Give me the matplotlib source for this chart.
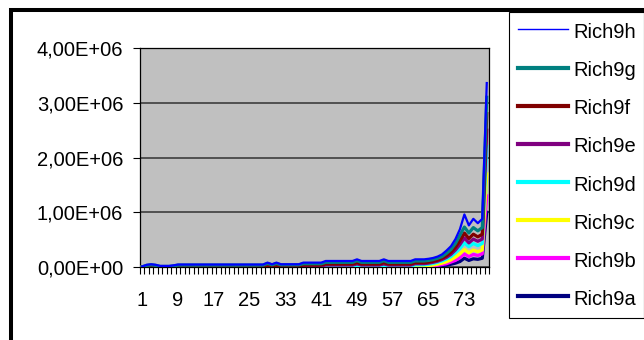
import numpy as np
import matplotlib
matplotlib.use('Agg')
import matplotlib.pyplot as plt
from matplotlib.patches import Rectangle
from matplotlib.ticker import FuncFormatter

plt.rcParams['font.family'] = ['Liberation Sans', 'DejaVu Sans']

# ---------------- data (values in thousands) ----------------
categories = list(range(1, 79))
tick_positions = [1, 9, 17, 25, 33, 41, 49, 57, 65, 73]
tick_labels = ['1', '9', '17', '25', '33', '41', '49', '57', '65', '73']
series_names = ['Rich9a', 'Rich9b', 'Rich9c', 'Rich9d', 'Rich9e', 'Rich9f', 'Rich9g', 'Rich9h']
series_colors = ['#000080', '#FF00FF', '#FFFF00', '#00FFFF', '#800080', '#800000', '#008080', '#0000FF']

rich9a = [0, 0, 0, 0, 0, 0, 0, 0, 0, 0, 0, 0, 0, 0, 0, 0, 0, 0, 0, 0,
          0, 0, 0, 0, 0, 0, 0, 0, 0, 0, 0, 0, 0, 0, 0, 0, 0, 0, 0, 0,
          0, 0, 0, 0, 0, 0, 0, 0, 0, 0, 0, 0, 0, 0, 0, 0, 0, 0, 0, 0,
          0, 0, 0, 0, 3, 5, 10, 20, 30, 50, 70, 100, 160, 120, 150, 140, 160, 1000]
rich9b = [0, 0, 0, 0, 0, 0, 0, 0, 0, 0, 0, 0, 0, 0, 0, 0, 0, 0, 0, 0,
          0, 0, 0, 0, 0, 0, 0, 0, 0, 0, 0, 0, 0, 0, 0, 0, 0, 0, 0, 0,
          0, 0, 0, 0, 0, 0, 0, 0, 0, 0, 0, 0, 0, 0, 0, 0, 0, 0, 4, 4,
          4, 8, 8, 8, 12, 15, 20, 25, 30, 40, 50, 70, 80, 70, 80, 70, 80, 300]
rich9c = [0, 0, 0, 0, 0, 0, 0, 0, 0, 0, 0, 0, 0, 0, 0, 0, 0, 0, 0, 0,
          0, 0, 0, 0, 0, 0, 0, 0, 0, 0, 0, 0, 0, 0, 0, 0, 0, 0, 0, 0,
          0, 8, 8, 8, 8, 8, 8, 8, 10, 8, 8, 8, 8, 8, 10, 8, 8, 8, 4, 4,
          4, 12, 12, 12, 10, 15, 20, 25, 35, 40, 60, 70, 80, 70, 80, 70, 70, 400]
rich9d = [0, 0, 0, 0, 0, 0, 0, 0, 0, 0, 0, 0, 0, 0, 0, 0, 0, 0, 0, 0,
          0, 0, 0, 0, 0, 0, 0, 0, 0, 0, 0, 0, 0, 0, 0, 0, 0, 0, 0, 0,
          0, 7, 7, 7, 7, 7, 7, 7, 20, 7, 7, 7, 7, 7, 20, 7, 7, 7, 7, 7,
          7, 20, 20, 20, 25, 30, 35, 40, 50, 60, 80, 100, 120, 110, 120, 110, 120, 500]
rich9e = [0, 0, 0, 0, 0, 0, 0, 0, 0, 0, 0, 0, 0, 0, 0, 0, 0, 0, 0, 0,
          0, 0, 0, 0, 0, 0, 0, 0, 0, 0, 0, 0, 0, 0, 0, 0, 15, 15, 15, 15,
          15, 20, 20, 20, 20, 20, 20, 20, 25, 20, 20, 20, 20, 20, 25, 20, 20, 20, 20, 20,
          20, 20, 20, 20, 20, 20, 20, 25, 30, 40, 50, 70, 90, 70, 80, 80, 80, 300]
rich9f = [0, 0, 0, 0, 0, 0, 0, 0, 0, 0, 0, 0, 0, 0, 0, 0, 0, 0, 0, 0,
          0, 0, 0, 0, 0, 0, 0, 0, 20, 10, 20, 10, 10, 10, 10, 10, 20, 20, 20, 20,
          20, 20, 20, 20, 20, 20, 20, 20, 25, 20, 20, 20, 20, 20, 25, 20, 20, 20, 20, 20,
          20, 20, 20, 20, 20, 20, 20, 25, 30, 40, 50, 70, 90, 80, 90, 80, 90, 300]
rich9g = [5, 30, 40, 30, 10, 10, 10, 20, 35, 35, 35, 35, 35, 35, 35, 35, 35, 35, 35, 35,
          35, 35, 35, 35, 35, 35, 35, 35, 45, 30, 45, 30, 30, 30, 30, 30, 25, 25, 25, 25,
          25, 30, 30, 30, 30, 30, 30, 30, 35, 30, 30, 30, 30, 30, 35, 30, 30, 30, 30, 30,
          30, 30, 30, 30, 30, 30, 35, 30, 45, 50, 70, 100, 110, 100, 120, 110, 120, 300]
rich9h = [5, 10, 10, 10, 10, 10, 10, 10, 10, 10, 10, 10, 10, 10, 10, 10, 10, 10, 10, 10,
          10, 10, 10, 10, 10, 10, 10, 10, 15, 10, 15, 10, 10, 10, 10, 10, 20, 20, 20, 20,
          20, 25, 25, 25, 25, 25, 25, 25, 25, 25, 25, 25, 25, 25, 25, 25, 25, 25, 25, 25,
          25, 30, 30, 30, 30, 30, 30, 40, 50, 60, 80, 110, 230, 140, 160, 140, 160, 260]

series_values = [rich9a, rich9b, rich9c, rich9d, rich9e, rich9f, rich9g, rich9h]

# ---------------- figure ----------------
W, H = 644, 340
fig = plt.figure(figsize=(W / 100, H / 100), dpi=100)
fig.patch.set_facecolor('white')

ax = fig.add_axes([140 / W, (H - 267) / H, 349 / W, 219 / H])
ax.set_facecolor('#C0C0C0')

# stacked line chart
stack = np.cumsum(np.array(series_values, dtype=float) * 1000.0, axis=0)
handles = []
for i, (name, col) in enumerate(zip(series_names, series_colors)):
    lw = 1.6 if name == 'Rich9h' else 2.3
    ln, = ax.plot(categories, stack[i], color=col, lw=lw, label=name, zorder=3 + i)
    handles.append(ln)

ax.set_xlim(0.5, len(categories) + 0.5)
ax.set_ylim(0, 4e6)
ax.set_yticks([0, 1e6, 2e6, 3e6, 4e6])
ax.yaxis.set_major_formatter(FuncFormatter(lambda v, p: f"{v:.2E}".replace('.', ',')))
ax.yaxis.grid(True, color='#505050', lw=1.4)
ax.set_axisbelow(True)

ax.set_xticks(tick_positions)
ax.set_xticklabels(tick_labels)
ax.set_xticks(np.arange(0.5, len(categories) + 1, 1.0), minor=True)
ax.tick_params(axis='x', which='major', length=0, pad=17, labelsize=14.5)
ax.tick_params(axis='x', which='minor', length=5, width=0.8, direction='out', color='black')
ax.tick_params(axis='y', which='major', length=5, width=0.8, direction='out', pad=7, labelsize=14.5)

for sp in ax.spines.values():
    sp.set_color('black')
    sp.set_linewidth(0.9)

# legend (reverse order as in stacked chart)
leg = fig.legend(handles[::-1], series_names[::-1], loc='upper left',
                 bbox_to_anchor=(509 / W, 1 - 12 / H), bbox_transform=fig.transFigure,
                 borderaxespad=0, frameon=True, fancybox=False, edgecolor='black',
                 framealpha=1, fontsize=14.5, handlelength=2.5, handletextpad=0.25,
                 handleheight=1.25, labelspacing=0.83, borderpad=0.43)
leg.get_frame().set_linewidth(0.8)
leg_lines = leg.get_lines()
leg_lines[0].set_linewidth(1.0)
for l in leg_lines[1:]:
    l.set_linewidth(3.0)

# outer chart border (extends past right and bottom)
border = Rectangle((11 / W, -0.2), 1.2, (H - 10) / H + 0.2, transform=fig.transFigure,
                   fill=False, edgecolor='black', lw=2.9, clip_on=False)
fig.add_artist(border)

fig.savefig('out.png', dpi=100)
